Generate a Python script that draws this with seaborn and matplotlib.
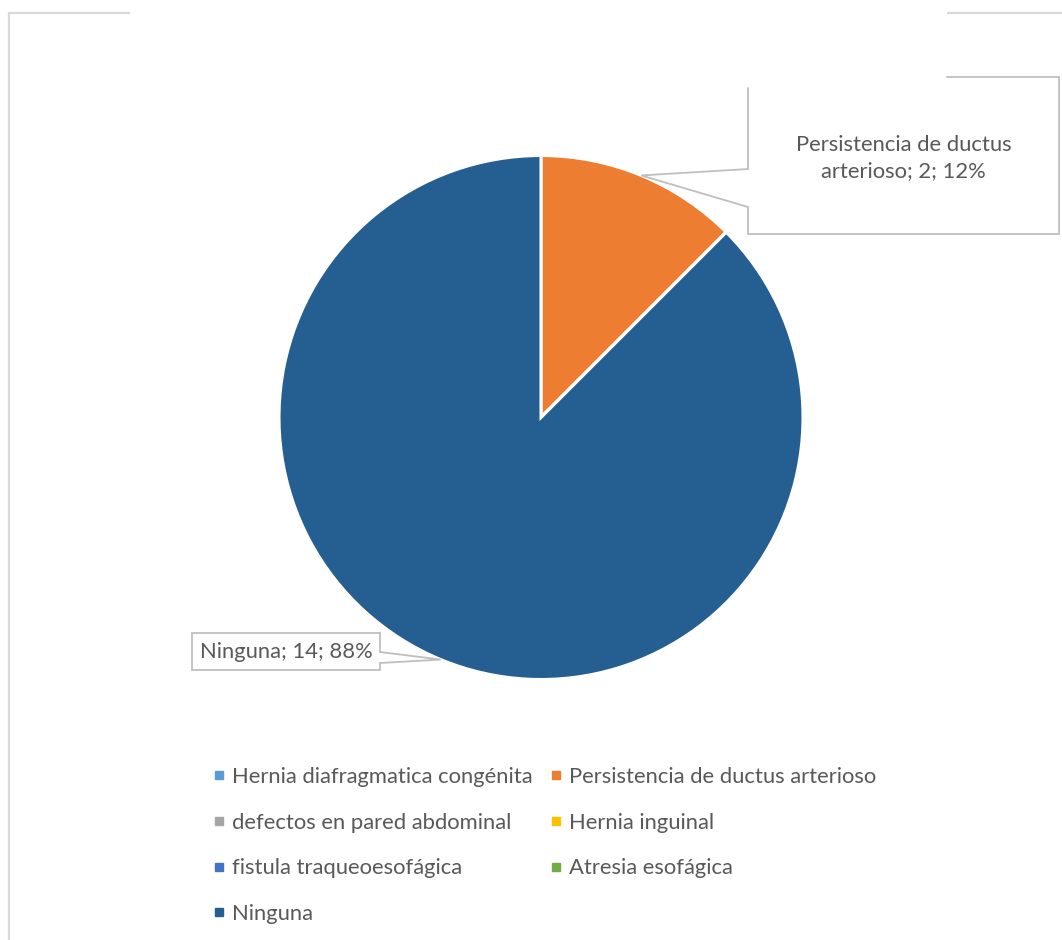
import textwrap
import numpy as np
import matplotlib
matplotlib.use("Agg")
import matplotlib.pyplot as plt
from matplotlib.lines import Line2D
import seaborn as sns

# ---- data ----
categories = [
    "Hernia diafragmatica congénita",
    "Persistencia de ductus arterioso",
    "defectos en pared abdominal",
    "Hernia inguinal",
    "fistula traqueoesofágica",
    "Atresia esofágica",
    "Ninguna",
]
counts = [0, 2, 0, 0, 0, 0, 14]
colors = ["#5B9BD5", "#ED7D31", "#A5A5A5", "#FFC000", "#4472C4", "#70AD47", "#255E91"]

sns.set_theme(style="white")
plt.rcParams["font.family"] = ["Lato", "DejaVu Sans"]
TEXT = "#595959"
LINE = "#BFBFBF"
FS = 15.8

W, H = 1062, 940
fig = plt.figure(figsize=(W / 100, H / 100), dpi=100)
fig.patch.set_facecolor("white")

# pie placement (pixels)
cx, cy, R = 541, 417.5, 262
ax = fig.add_axes([(cx - R) / W, 1 - (cy + R) / H, 2 * R / W, 2 * R / H])
wedges, _ = ax.pie(counts, colors=colors, startangle=90, counterclock=False,
                   wedgeprops=dict(edgecolor="white", linewidth=2.2))
ax.set_xlim(-1, 1)
ax.set_ylim(-1, 1)
ax.axis("off")

# overlay in pixel coordinates for frame and callouts
ov = fig.add_axes([0, 0, 1, 1])
ov.set_xlim(0, W)
ov.set_ylim(H, 0)
ov.axis("off")

# chart frame
ov.plot([9, 9, 130], [940, 13, 13], color="#D9D9D9", lw=1.6, solid_capstyle="butt")
ov.plot([947, 1062], [13, 13], color="#D9D9D9", lw=1.6, solid_capstyle="butt")

total = sum(counts)


def label_for(i):
    pct = 100 * counts[i] / total
    return f"{categories[i]}; {counts[i]}; {pct:.0f}%"


def tip_of(i):
    w = wedges[i]
    mid = np.deg2rad((w.theta1 + w.theta2) / 2)
    return cx + R * np.cos(mid), cy - R * np.sin(mid)

# callout: Persistencia de ductus arterioso
tx, ty = tip_of(1)
ov.plot([947, 1059, 1059, 748, 748, tx, 748, 748],
        [77, 77, 234, 234, 207, ty, 169, 88],
        color=LINE, lw=1.3, solid_joinstyle="miter")
ov.text(903.5, 158, textwrap.fill(label_for(1), 22), ha="center", va="center",
        fontsize=FS, color=TEXT, linespacing=1.37)

# callout: Ninguna
tx, ty = tip_of(6)
ov.plot([380, 192, 192, 380, 380, tx, 380, 380],
        [633, 633, 670, 670, 663, ty, 652, 633],
        color=LINE, lw=1.3, solid_joinstyle="miter")
ov.text(286, 652, label_for(6), ha="center", va="center", fontsize=FS, color=TEXT)

# legend, filled row by row
handles = [Line2D([], [], marker="s", ls="", markersize=5.2, color=c) for c in colors]
order = list(range(0, len(categories), 2)) + list(range(1, len(categories), 2))
leg = fig.legend([handles[i] for i in order], [categories[i] for i in order],
                 ncol=2, loc="upper left", bbox_to_anchor=(213.5 / W, 1 - 767 / H),
                 frameon=False, fontsize=FS, labelcolor=TEXT,
                 handlelength=0.5, handletextpad=0.34, columnspacing=0.8,
                 labelspacing=1.17, borderpad=0, borderaxespad=0)

fig.savefig("out.png", dpi=100, facecolor="white")
